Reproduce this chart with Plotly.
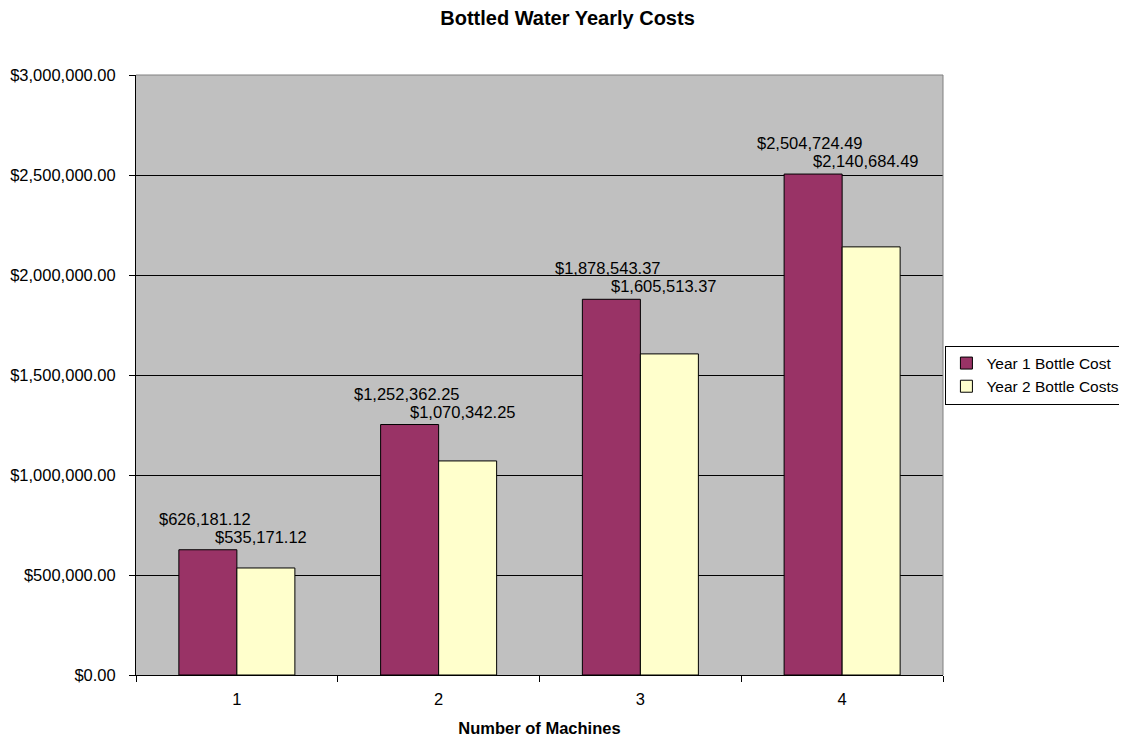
import plotly.graph_objects as go

machines = ["1", "2", "3", "4"]
year1_cost = [626181.12, 1252362.25, 1878543.37, 2504724.49]
year2_cost = [535171.12, 1070342.25, 1605513.37, 2140684.49]
series_names = ["Year 1 Bottle Cost", "Year 2 Bottle Costs"]

FONT = "Liberation Sans, Arial, sans-serif"

fig = go.Figure()
fig.add_trace(go.Bar(x=machines, y=year1_cost, name=series_names[0],
                     marker=dict(color="#993366", line=dict(color="black", width=1))))
fig.add_trace(go.Bar(x=machines, y=year2_cost, name=series_names[1],
                     marker=dict(color="#FFFFCC", line=dict(color="black", width=1))))

# value labels: Excel stacked the pair of labels above the taller bar of each group
# (category axis -> annotation x is the category index)
for i, (v1, v2) in enumerate(zip(year1_cost, year2_cost)):
    top = max(v1, v2)
    fig.add_annotation(x=i, y=top, text="${:,.2f}".format(v1), showarrow=False,
                       xshift=-32, yshift=31, yanchor="middle",
                       font=dict(size=16.5, color="black", family=FONT))
    fig.add_annotation(x=i, y=top, text="${:,.2f}".format(v2), showarrow=False,
                       xshift=24, yshift=13, yanchor="middle",
                       font=dict(size=16.5, color="black", family=FONT))

fig.update_layout(
    width=1119, height=732,
    margin=dict(l=128, r=184, t=67, b=65, autoexpand=False),
    paper_bgcolor="white", plot_bgcolor="#C0C0C0",
    font=dict(family=FONT, size=16.5, color="black"),
    title=dict(text="<b>Bottled Water Yearly Costs</b>", x=0.5, xanchor="center",
               y=0.986, yanchor="middle", font=dict(size=20)),
    barmode="group", bargap=0.425, bargroupgap=0,
    legend=dict(x=1.003, xanchor="left", y=0.5, yanchor="middle",
                bordercolor="black", borderwidth=1, bgcolor="white",
                font=dict(size=15.5), tracegroupgap=0),
    shapes=[
        dict(type="line", xref="paper", yref="paper", x0=0, x1=1, y0=1, y1=1,
             line=dict(color="#808080", width=1)),
        dict(type="line", xref="paper", yref="paper", x0=1, x1=1, y0=0, y1=1,
             line=dict(color="#808080", width=1)),
    ],
)
fig.update_xaxes(type="category", showline=True, linecolor="black", linewidth=1,
                 ticks="outside", tickson="boundaries", ticklen=6, tickcolor="black",
                 ticklabelstandoff=9, showgrid=False,
                 title=dict(text="<b>Number of Machines</b>", standoff=15,
                            font=dict(size=16.5)))
fig.update_yaxes(range=[0, 3000000], dtick=500000, tickformat="$,.2f",
                 showline=True, linecolor="black", linewidth=1,
                 ticks="outside", ticklen=6, tickcolor="black", ticklabelstandoff=10,
                 showgrid=True, gridcolor="black", gridwidth=1, zeroline=False)

fig.write_html("out.html")
